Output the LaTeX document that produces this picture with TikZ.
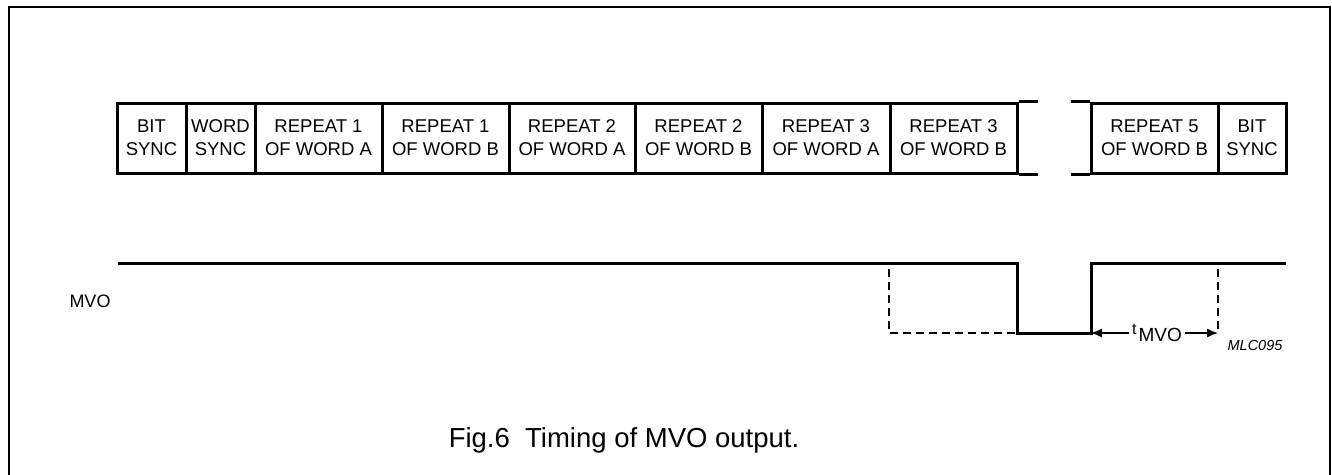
\documentclass[tikz,border=0pt]{standalone}
\usepackage{fontspec}
\setmainfont{Liberation Sans}
\usetikzlibrary{arrows.meta}
\tikzset{
  cell/.style={draw, line width=3pt, rectangle, inner sep=0pt, minimum height=70pt,
    align=center, font=\fontsize{18.5}{23}\selectfont},
  wave/.style={line width=3pt},
  guide/.style={line width=1.3pt, dash pattern=on 8pt off 5pt},
  frame/.style={line width=2.2pt},
  dim/.style={line width=1.4pt, -{Latex[length=11pt,width=9pt]}}
}
\begin{document}
\begin{tikzpicture}[x=1pt,y=-1pt]
\useasboundingbox (0,0) rectangle (1332,474);
% outer frame, open at the bottom
\draw[frame] (9,476) -- (9,7) -- (1330,7) -- (1330,476);

% data frame: bit sync, word sync and repeated words
\node[cell, minimum width=69pt]  (c1)  at (151.5,138) {BIT\\SYNC};
\node[cell, minimum width=69pt]  (c2)  at (220.5,138) {WORD\\SYNC};
\node[cell, minimum width=127pt] (c3)  at (318.5,138) {REPEAT 1\\OF WORD A};
\node[cell, minimum width=127pt] (c4)  at (445.5,138) {REPEAT 1\\OF WORD B};
\node[cell, minimum width=126pt] (c5)  at (572,138)   {REPEAT 2\\OF WORD A};
\node[cell, minimum width=127pt] (c6)  at (698.5,138) {REPEAT 2\\OF WORD B};
\node[cell, minimum width=128pt] (c7)  at (826,138)   {REPEAT 3\\OF WORD A};
\node[cell, minimum width=127pt] (c8)  at (953.5,138) {REPEAT 3\\OF WORD B};
\node[cell, minimum width=127pt] (c9)  at (1154.5,138) {REPEAT 5\\OF WORD B};
\node[cell, minimum width=68pt]  (c10) at (1252,138)  {BIT\\SYNC};
% open ends around the break
\draw[wave] (c8.north east) -- ++(19,0);
\draw[wave] (c8.south east) -- ++(19,0);
\draw[wave] (c9.north west) -- ++(-19,0);
\draw[wave] (c9.south west) -- ++(-19,0);

% MVO waveform
\node[font=\fontsize{18}{18}\selectfont] (mvo) at (90,301) {MVO};
\coordinate (h0) at (118,263);
\coordinate (f1) at (1017,263);
\coordinate (f2) at (1017,333);
\coordinate (r1) at (1091,333);
\coordinate (r2) at (1091,263);
\coordinate (h1) at (1286,263);
\draw[wave, line join=miter] (h0) -- (f1) -- (f2) -- (r1) -- (r2) -- (h1);

% dashed alternative edges
\coordinate (d1) at (889,269);
\coordinate (d2) at (889,333);
\coordinate (d3) at (1218,269);
\coordinate (d4) at (1218,333);
\draw[guide] (d1) -- (d2) -- (f2);
\draw[guide] (d3) -- (d4);

% pulse width annotation
\node[inner sep=2.5pt] (tmvo) at (1157,333)
  {\fontsize{16}{16}\selectfont t\hspace{2pt}\raisebox{-7pt}{\fontsize{19}{19}\selectfont MVO}};
\draw[dim] (tmvo.west) -- (r1);
\draw[dim] (tmvo.east) -- (d4);

\node[font=\fontsize{14.5}{14.5}\selectfont\itshape] (ref) at (1255,346) {MLC095};

% caption
\node[font=\fontsize{27.5}{27.5}\selectfont] (cap) at (624,440) {Fig.6\ \ Timing of MVO output.};
\end{tikzpicture}
\end{document}
